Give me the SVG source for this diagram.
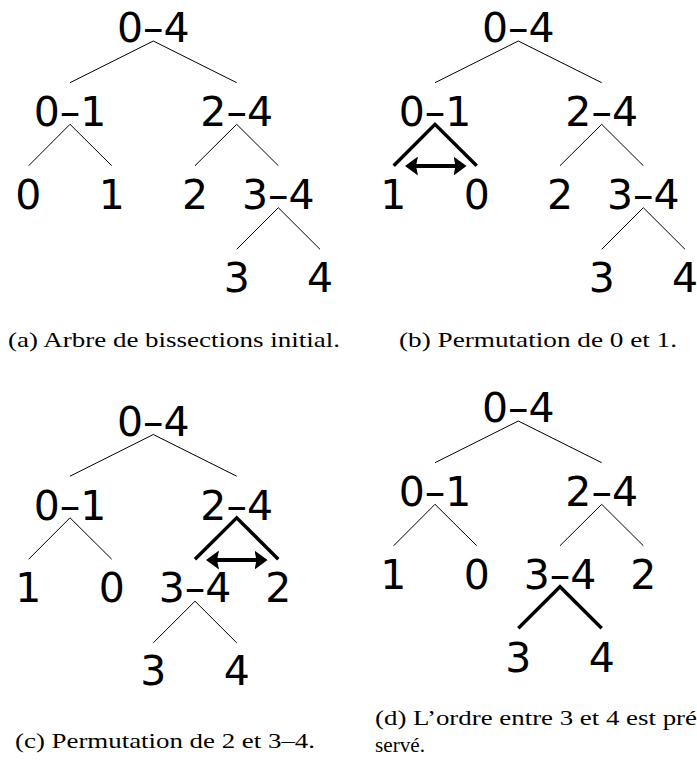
<svg xmlns="http://www.w3.org/2000/svg" width="697" height="762" viewBox="0 0 697 762">
<style>
.lbl{font-family:"DejaVu Sans",sans-serif;font-size:41px;fill:#000;text-anchor:middle}
.cap{font-family:"Liberation Serif",serif;font-size:22px;fill:#000}
.thin{stroke:#000;stroke-width:1;fill:none}
.thick{stroke:#000;stroke-width:3.4;fill:none}
.arr{stroke:#000;stroke-width:4;fill:none;marker-start:url(#ah);marker-end:url(#ah)}
</style>
<defs>
<marker id="ah" markerUnits="userSpaceOnUse" viewBox="0 0 13 19" markerWidth="13" markerHeight="19" refX="5" refY="9.5" orient="auto-start-reverse">
<path d="M0,0 L13,9.5 L0,19 L2,9.5 Z" fill="#000"/>
</marker>
</defs>

<!-- Panel (a) -->
<g id="panel-a">
<g id="a-connectors">
<path class="thin" d="M153.3,41 L70,82.7 M153.3,41 L236.7,82.7"/>
<path class="thin" d="M70,124.3 L28.7,165.7 M70,124.3 L111.7,165.7"/>
<path class="thin" d="M236.7,124.3 L195,165.7 M236.7,124.3 L278.3,165.7"/>
<path class="thin" d="M278.3,207.7 L236.7,249.3 M278.3,207.7 L320,249.3"/>
</g>
<g id="a-n04"><text class="lbl" x="153.3" y="42">0–4</text></g>
<g id="a-n01"><text class="lbl" x="70" y="126">0–1</text></g>
<g id="a-n24"><text class="lbl" x="236.7" y="126">2–4</text></g>
<g id="a-n0"><text class="lbl" x="28.3" y="208.5">0</text></g>
<g id="a-n1"><text class="lbl" x="111.7" y="208.5">1</text></g>
<g id="a-n2"><text class="lbl" x="195" y="208.5">2</text></g>
<g id="a-n34"><text class="lbl" x="278.3" y="208.5">3–4</text></g>
<g id="a-n3"><text class="lbl" x="236.7" y="291.5">3</text></g>
<g id="a-n4"><text class="lbl" x="320" y="291.5">4</text></g>
<text class="cap" x="8" y="347" textLength="332" lengthAdjust="spacingAndGlyphs">(a) Arbre de bissections initial.</text>
</g>

<!-- Panel (b) -->
<g id="panel-b" transform="translate(365,0)">
<g id="b-connectors">
<path class="thin" d="M153.3,41 L70,82.7 M153.3,41 L236.7,82.7"/>
<path class="thick" d="M28.7,165.7 L70,124.3 L111.7,165.7"/>
<path class="thin" d="M236.7,124.3 L195,165.7 M236.7,124.3 L278.3,165.7"/>
<path class="thin" d="M278.3,207.7 L236.7,249.3 M278.3,207.7 L320,249.3"/>
<line class="arr" x1="48" y1="166" x2="93.5" y2="166"/>
</g>
<g id="b-n04"><text class="lbl" x="153.3" y="42">0–4</text></g>
<g id="b-n01"><text class="lbl" x="70" y="126">0–1</text></g>
<g id="b-n24"><text class="lbl" x="236.7" y="126">2–4</text></g>
<g id="b-n1"><text class="lbl" x="28.3" y="208.5">1</text></g>
<g id="b-n0"><text class="lbl" x="111.7" y="208.5">0</text></g>
<g id="b-n2"><text class="lbl" x="195" y="208.5">2</text></g>
<g id="b-n34"><text class="lbl" x="278.3" y="208.5">3–4</text></g>
<g id="b-n3"><text class="lbl" x="236.7" y="291.5">3</text></g>
<g id="b-n4"><text class="lbl" x="320" y="291.5">4</text></g>
<text class="cap" x="34" y="347" textLength="278" lengthAdjust="spacingAndGlyphs">(b) Permutation de 0 et 1.</text>
</g>

<!-- Panel (c) -->
<g id="panel-c" transform="translate(0,393.5)">
<g id="c-connectors">
<path class="thin" d="M153.3,41 L70,82.7 M153.3,41 L236.7,82.7"/>
<path class="thin" d="M70,124.3 L28.7,165.7 M70,124.3 L111.7,165.7"/>
<path class="thick" d="M195,165.7 L236.7,124.3 L278.3,165.7"/>
<path class="thin" d="M195,207.7 L153.3,249.3 M195,207.7 L236.7,249.3"/>
<line class="arr" x1="214" y1="166.5" x2="259.5" y2="166.5"/>
</g>
<g id="c-n04"><text class="lbl" x="153.3" y="42">0–4</text></g>
<g id="c-n01"><text class="lbl" x="70" y="126">0–1</text></g>
<g id="c-n24"><text class="lbl" x="236.7" y="126">2–4</text></g>
<g id="c-n1"><text class="lbl" x="28.3" y="208.5">1</text></g>
<g id="c-n0"><text class="lbl" x="111.7" y="208.5">0</text></g>
<g id="c-n34"><text class="lbl" x="195" y="208.5">3–4</text></g>
<g id="c-n2"><text class="lbl" x="278.3" y="208.5">2</text></g>
<g id="c-n3"><text class="lbl" x="153.3" y="291.5">3</text></g>
<g id="c-n4"><text class="lbl" x="236.7" y="291.5">4</text></g>
<text class="cap" x="15" y="354.5" textLength="300" lengthAdjust="spacingAndGlyphs">(c) Permutation de 2 et 3–4.</text>
</g>

<!-- Panel (d) -->
<g id="panel-d" transform="translate(365,380)">
<g id="d-connectors">
<path class="thin" d="M153.3,41 L70,82.7 M153.3,41 L236.7,82.7"/>
<path class="thin" d="M70,124.3 L28.7,165.7 M70,124.3 L111.7,165.7"/>
<path class="thin" d="M236.7,124.3 L195,165.7 M236.7,124.3 L278.3,165.7"/>
<path class="thick" d="M153.3,248.3 L195,206.7 L236.7,248.3"/>
</g>
<g id="d-n04"><text class="lbl" x="153.3" y="42">0–4</text></g>
<g id="d-n01"><text class="lbl" x="70" y="126">0–1</text></g>
<g id="d-n24"><text class="lbl" x="236.7" y="126">2–4</text></g>
<g id="d-n1"><text class="lbl" x="28.3" y="208.5">1</text></g>
<g id="d-n0"><text class="lbl" x="111.7" y="208.5">0</text></g>
<g id="d-n34"><text class="lbl" x="195" y="208.5">3–4</text></g>
<g id="d-n2"><text class="lbl" x="278.3" y="208.5">2</text></g>
<g id="d-n3"><text class="lbl" x="153.3" y="291.5">3</text></g>
<g id="d-n4"><text class="lbl" x="236.7" y="291.5">4</text></g>
<text class="cap" x="10" y="345" textLength="322" lengthAdjust="spacingAndGlyphs">(d) L’ordre entre 3 et 4 est pré</text>
<text class="cap" x="10" y="372" textLength="50" lengthAdjust="spacingAndGlyphs">servé.</text>
</g>
</svg>
